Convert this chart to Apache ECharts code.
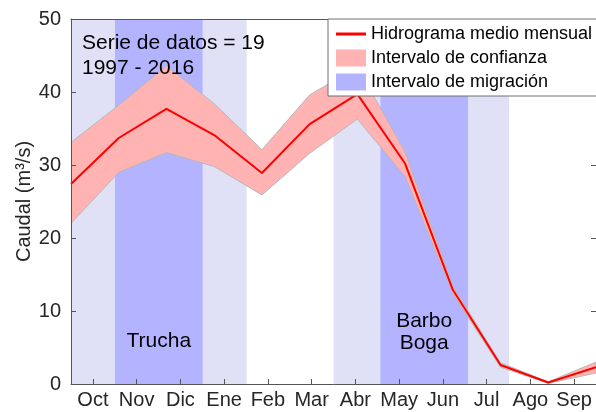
<!DOCTYPE html>
<html>
<head>
<meta charset="utf-8">
<script src="https://cdn.jsdelivr.net/npm/echarts@6/dist/echarts.min.js"></script>
<style>
  html, body { margin: 0; padding: 0; background: #fff; }
  #chart { width: 596px; height: 412px; }
</style>
</head>
<body>
<div id="chart"></div>
<script>
// Hydrological-year months (Oct → Sep)
const months = ['Oct', 'Nov', 'Dic', 'Ene', 'Feb', 'Mar', 'Abr', 'May', 'Jun', 'Jul', 'Ago', 'Sep'];

// Mean monthly discharge (m3/s) and its confidence interval
const meanFlow = [27.4, 33.7, 37.7, 34.1, 28.9, 35.6, 39.7, 30.2, 12.9, 2.6, 0.2, 2.3];
const upperCI  = [33.1, 38.2, 43.6, 38.4, 32.1, 39.6, 43.4, 31.8, 13.4, 2.9, 0.3, 3.0];
const lowerCI  = [22.0, 29.0, 31.7, 29.8, 25.9, 31.6, 36.3, 28.4, 12.4, 2.3, 0.1, 1.5];

// Migration windows, in month-index units (1 = Oct … 12 = Sep)
const edgeWindows = [[1, 1.92], [3.76, 4.68], [6.5, 7.48], [9.32, 10.18]];
const peakWindows = [[1.92, 3.76], [7.48, 9.32]];
const peakSpecies = ['Trucha', 'Barbo\nBoga'];

const yTicks = { min: 0, max: 50, step: 10 };

const FONT = '"Liberation Sans", Arial, Helvetica, sans-serif';
const AXIS_COLOR = '#555555';
const LABEL_COLOR = '#262626';
const RED = '#ff0000';
const PINK = '#ffb3b3';
const BLUE = '#b3b3ff';
const LIGHT_BLUE = '#e0e0f7';

const idx = months.map((_, i) => i + 1);
const toPairs = arr => arr.map((v, i) => [idx[i], v]);
const ciRows = idx.map((x, i) => [x, lowerCI[i], upperCI[i]]);

const areaData = [];
edgeWindows.forEach(w => {
  areaData.push([{ xAxis: w[0], itemStyle: { color: LIGHT_BLUE } }, { xAxis: w[1] }]);
});
const labelDist = [32, 30];
peakWindows.forEach((w, k) => {
  areaData.push([{
    xAxis: w[0],
    itemStyle: { color: BLUE },
    label: {
      show: true, position: 'insideBottom', distance: labelDist[k],
      formatter: peakSpecies[k], fontSize: 21, lineHeight: 22,
      fontFamily: FONT, color: '#000', align: 'center'
    }
  }, { xAxis: w[1] }]);
});

const chart = echarts.init(document.getElementById('chart'), null, { renderer: 'canvas' });

chart.setOption({
  animation: false,
  backgroundColor: '#fff',
  textStyle: { fontFamily: FONT },
  grid: { left: 71, top: 19, width: 526, height: 365, containLabel: false },
  legend: {
    orient: 'vertical', left: 328, top: 19,
    padding: [6, 5, 5, 8], itemGap: 6, itemWidth: 30, itemHeight: 17,
    backgroundColor: '#fff', borderColor: '#707070', borderWidth: 1,
    selectedMode: false, z: 20, symbolKeepAspect: true,
    textStyle: { fontSize: 18, color: '#000', fontFamily: FONT },
    data: [
      { name: 'Hidrograma medio mensual', icon: 'path://M0,0H30V3H0Z', itemStyle: { color: RED, borderWidth: 0 } },
      { name: 'Intervalo de confianza', icon: 'rect', itemStyle: { color: PINK, borderWidth: 0 } },
      { name: 'Intervalo de migración', icon: 'rect', itemStyle: { color: BLUE, borderWidth: 0 } }
    ]
  },
  xAxis: [
    {
      type: 'value', min: 1, max: 12, position: 'top', z: 10,
      axisLine: { show: true, onZero: false, lineStyle: { color: AXIS_COLOR, width: 1 } },
      axisTick: { show: false }, axisLabel: { show: false }, splitLine: { show: false }
    },
    {
      type: 'category', data: months, position: 'bottom', boundaryGap: true, z: 10,
      axisLine: { show: true, onZero: false, lineStyle: { color: AXIS_COLOR, width: 1 } },
      axisTick: { show: true, inside: true, alignWithLabel: true, interval: 0, length: 5, lineStyle: { color: AXIS_COLOR } },
      axisLabel: { interval: 0, fontSize: 20, color: LABEL_COLOR, margin: 6, fontFamily: FONT },
      splitLine: { show: false }
    }
  ],
  yAxis: [
    {
      type: 'value', min: yTicks.min, max: yTicks.max, interval: yTicks.step, position: 'left', z: 10,
      name: 'Caudal (m³/s)', nameLocation: 'middle', nameGap: 37, nameRotate: 90,
      nameMoveOverlap: false,
      nameTextStyle: { fontSize: 20, color: LABEL_COLOR, fontFamily: FONT },
      axisLine: { show: true, onZero: false, lineStyle: { color: AXIS_COLOR, width: 1 } },
      axisTick: { show: true, inside: true, length: 5, lineStyle: { color: AXIS_COLOR } },
      axisLabel: { fontSize: 20, color: LABEL_COLOR, margin: 10, fontFamily: FONT },
      splitLine: { show: false }
    },
    {
      type: 'value', min: yTicks.min, max: yTicks.max, interval: yTicks.step, position: 'right', z: 10,
      axisLine: { show: true, onZero: false, lineStyle: { color: AXIS_COLOR, width: 1 } },
      axisTick: { show: true, inside: true, length: 5, lineStyle: { color: AXIS_COLOR } },
      axisLabel: { show: false }, splitLine: { show: false }
    }
  ],
  series: [
    {
      name: 'Intervalo de migración', type: 'line', xAxisIndex: 0, yAxisIndex: 0,
      data: [], z: 1, itemStyle: { color: BLUE }, lineStyle: { color: BLUE },
      markArea: { silent: true, data: areaData }
    },
    {
      // confidence band: one polygon, upper edge forward then lower edge back
      name: 'Intervalo de confianza', type: 'custom', xAxisIndex: 0, yAxisIndex: 0,
      data: ciRows, encode: { x: 0, y: [1, 2] }, z: 2, clip: true, silent: true,
      itemStyle: { color: PINK },
      renderItem: (params, api) => {
        if (params.dataIndex !== 0) return null;
        const pts = [];
        for (let i = 0; i < ciRows.length; i++) pts.push(api.coord([ciRows[i][0], ciRows[i][2]]));
        for (let i = ciRows.length - 1; i >= 0; i--) pts.push(api.coord([ciRows[i][0], ciRows[i][1]]));
        return {
          type: 'polygon',
          shape: { points: pts },
          style: { fill: PINK, stroke: '#b8b8b8', lineWidth: 1 }
        };
      }
    },
    {
      name: 'Hidrograma medio mensual', type: 'line', xAxisIndex: 0, yAxisIndex: 0,
      data: toPairs(meanFlow), symbol: 'none', z: 3,
      itemStyle: { color: RED },
      lineStyle: { color: RED, width: 2 }
    }
  ],
  graphic: [
    {
      type: 'text', left: 82, top: 31, z: 15,
      style: {
        text: 'Serie de datos = 19\n1997 - 2016',
        fontSize: 21, lineHeight: 25, fontFamily: FONT, fill: '#000'
      }
    }
  ]
});
</script>
</body>
</html>
